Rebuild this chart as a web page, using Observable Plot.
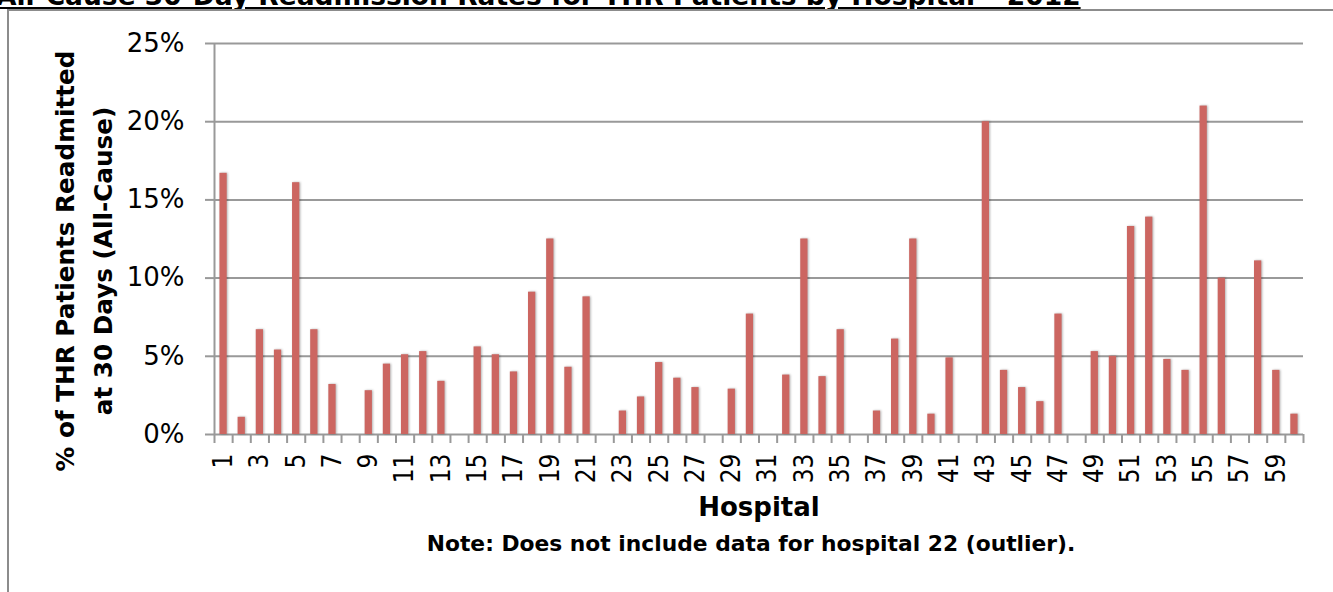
<!DOCTYPE html>
<html>
<head>
<meta charset="utf-8">
<script src="https://cdn.jsdelivr.net/npm/d3@7"></script>
<script src="https://cdn.jsdelivr.net/npm/@observablehq/plot@0.6"></script>
<style>
  html, body { margin: 0; padding: 0; background: #fff; overflow: hidden; width: 1333px; height: 592px; }
  #title { position: relative; height: 9px; overflow: hidden; }
  #title span { position: absolute; left: -4px; top: -20px; white-space: nowrap;
    font: bold 26.5px "DejaVu Sans", Verdana, sans-serif; text-decoration: underline; color: #000; }
  #frame { margin-left: 7px; border-left: 2px solid #8c8c8c; border-top: 2px solid #8c8c8c; width: 1324px; height: 581px; }
  #frame svg { display: block; }
  g[aria-label="rect"] rect { filter: drop-shadow(1.5px 0.5px 1px rgba(0,0,0,0.3)); }
  g[aria-label="y-axis tick label"] { font-size: 26px !important; font-family: "DejaVu Sans", sans-serif !important; }
  g[aria-label="x-axis tick label"] { font-size: 26px !important; font-family: "DejaVu Sans Condensed", "DejaVu Sans", sans-serif !important; font-stretch: condensed; }
</style>
</head>
<body>
<div id="title"><span>All-Cause 30-Day Readmission Rates for THR Patients by Hospital – 2012</span></div>
<div id="frame"></div>
<script>
const hospitals = [1,2,3,4,5,6,7,8,9,10,11,12,13,14,15,16,17,18,19,20,21,22,23,24,25,26,27,28,29,30,
  31,32,33,34,35,36,37,38,39,40,41,42,43,44,45,46,47,48,49,50,51,52,53,54,55,56,57,58,59,60];
const rates = [16.7, 1.1, 6.7, 5.4, 16.1, 6.7, 3.2, 0, 2.8, 4.5, 5.1, 5.3, 3.4, 0, 5.6, 5.1, 4.0, 9.1, 12.5, 4.3,
  8.8, null, 1.5, 2.4, 4.6, 3.6, 3.0, 0, 2.9, 7.7, 0, 3.8, 12.5, 3.7, 6.7, 0, 1.5, 6.1, 12.5, 1.3,
  4.9, 0, 20.0, 4.1, 3.0, 2.1, 7.7, 0, 5.3, 5.0, 13.3, 13.9, 4.8, 4.1, 21.0, 10.0, 0, 11.1, 4.1, 1.3];
const xTickLabels = [1,3,5,7,9,11,13,15,17,19,21,23,25,27,29,31,33,35,37,39,41,43,45,47,49,51,53,55,57,59];
const yTicks = [0, 5, 10, 15, 20, 25];
const yLabel = "% of THR Patients Readmitted\nat 30 Days (All-Cause)";
const xLabel = "Hospital";
const note = "Note: Does not include data for hospital 22 (outlier).";

const data = hospitals.map((h, i) => ({hospital: h, rate: rates[i]})).filter(d => d.rate != null && d.rate > 0);
const boundaries = [hospitals[0] - 0.5, ...hospitals.map(h => h + 0.5)];
const barHalf = 0.2;

const chart = Plot.plot({
  width: 1324,
  height: 581,
  marginLeft: 205,
  marginRight: 30,
  marginTop: 32,
  marginBottom: 158,
  style: {fontFamily: "DejaVu Sans, Verdana, sans-serif", color: "#000", background: "#fff", overflow: "visible"},
  x: {type: "linear", domain: [hospitals[0] - 0.5, hospitals[hospitals.length - 1] + 0.5]},
  y: {domain: [0, 25]},
  marks: [
    Plot.ruleY(yTicks, {stroke: "#999", strokeWidth: 2}),
    Plot.ruleX([hospitals[0] - 0.5], {stroke: "#999", strokeWidth: 2}),
    Plot.axisY({ticks: yTicks, tickFormat: d => d + "%", tickSize: 9, tickPadding: 21, stroke: "#999", strokeWidth: 2, label: null}),
    Plot.axisX({ticks: boundaries, tickFormat: () => "", tickSize: 9, stroke: "#999", strokeWidth: 2, label: null}),
    Plot.axisX({ticks: xTickLabels, tickSize: 0, tickPadding: 19, tickRotate: -90, label: null}),
    Plot.rectY(data, {x1: d => d.hospital - barHalf, x2: d => d.hospital + barHalf, y: "rate", fill: "#cc6661"}),
    Plot.text([yLabel], {frameAnchor: "left", textAnchor: "middle", rotate: -90, dx: -134, dy: 22, fontSize: 24.7, fontWeight: "bold", lineHeight: 1.55, fill: "#000"}),
    Plot.text([xLabel], {frameAnchor: "bottom", dy: 81, fontSize: 26, fontWeight: "bold", fill: "#000"}),
    Plot.text([note], {frameAnchor: "bottom", dx: -8, dy: 116, fontSize: 21.8, fontWeight: "bold", fill: "#000"})
  ]
});
document.getElementById("frame").appendChild(chart);
</script>
</body>
</html>
